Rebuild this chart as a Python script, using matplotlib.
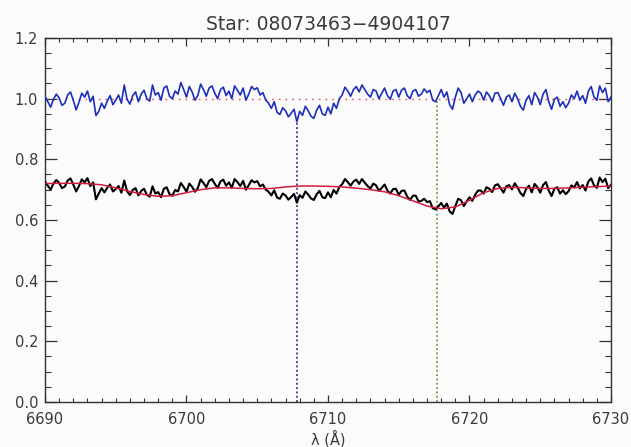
import numpy as np
import matplotlib
matplotlib.use("Agg")
import matplotlib.pyplot as plt

# Wavelength sampling of the spectrum (Angstrom)
wave_start = 6690.0
wave_step = 0.2

# Normalised spectrum (flux / continuum), one row per Angstrom
normalised = [
    1.008, 0.990, 0.972, 0.998, 1.015,
    1.002, 0.978, 0.985, 1.012, 1.022,
    0.995, 0.963, 0.988, 1.018, 1.005,
    1.025, 0.990, 1.008, 0.944, 0.958,
    0.985, 0.968, 0.992, 1.010, 0.980,
    0.995, 1.012, 0.985, 1.045, 0.998,
    0.982, 1.010, 1.022, 0.990, 1.015,
    1.028, 1.000, 0.992, 1.045, 1.012,
    1.020, 0.995, 1.035, 1.042, 1.008,
    1.000, 1.025, 1.015, 1.053, 1.030,
    1.005, 1.040, 1.022, 0.995, 1.010,
    1.048, 1.030, 1.008, 1.035, 1.042,
    1.018, 1.000, 1.030, 1.038, 1.010,
    1.025, 1.000, 1.042, 1.028, 1.012,
    1.035, 0.995, 1.015, 1.040, 1.030,
    1.036, 1.012, 1.020, 0.995, 0.985,
    0.968, 0.990, 0.955, 0.948, 0.970,
    0.960, 0.940, 0.952, 0.965, 0.924,
    0.958, 0.945, 0.975, 0.960, 0.942,
    0.935, 0.962, 0.978, 0.950, 0.945,
    0.972, 0.950, 0.985, 0.968, 1.000,
    1.012, 1.038, 1.025, 1.008, 1.030,
    1.040, 1.022, 1.045, 1.030, 1.015,
    1.005, 1.030, 1.025, 1.000, 1.018,
    1.035, 1.010, 0.998, 1.025, 1.030,
    1.005, 1.028, 1.035, 1.010, 1.000,
    1.025, 1.030, 1.008, 1.015, 1.032,
    1.020, 1.028, 0.995, 0.990, 1.010,
    1.030, 1.005, 1.022, 0.980, 0.965,
    1.005, 1.035, 1.020, 0.985, 1.000,
    1.015, 0.990, 1.012, 1.025, 1.018,
    0.995, 1.022, 1.010, 0.990, 1.018,
    1.020, 1.000, 0.978, 1.005, 1.012,
    0.990, 1.018, 1.000, 0.975, 0.962,
    0.995, 1.010, 0.980, 1.020, 1.005,
    0.980, 1.015, 1.030, 0.990, 0.965,
    0.998, 1.005, 0.975, 0.990, 0.970,
    0.985, 1.012, 1.000, 1.025, 0.995,
    1.010, 0.985, 1.025, 1.040, 1.005,
    0.995, 1.042, 1.020, 1.035, 0.990,
    1.005,
]

# Observed (scaled) flux on the same wavelength grid
flux = [
    0.726, 0.713, 0.700, 0.720, 0.732,
    0.722, 0.705, 0.710, 0.730, 0.737,
    0.717, 0.694, 0.712, 0.734, 0.724,
    0.738, 0.712, 0.724, 0.668, 0.687,
    0.705, 0.691, 0.706, 0.717, 0.694,
    0.702, 0.712, 0.690, 0.730, 0.695,
    0.682, 0.699, 0.705, 0.681, 0.696,
    0.703, 0.683, 0.677, 0.711, 0.687,
    0.692, 0.675, 0.703, 0.708, 0.685,
    0.680, 0.699, 0.694, 0.722, 0.709,
    0.693, 0.720, 0.709, 0.693, 0.705,
    0.734, 0.722, 0.708, 0.729, 0.735,
    0.719, 0.706, 0.727, 0.733, 0.713,
    0.724, 0.706, 0.735, 0.725, 0.712,
    0.729, 0.700, 0.715, 0.731, 0.724,
    0.728, 0.711, 0.717, 0.700, 0.693,
    0.681, 0.698, 0.674, 0.670, 0.687,
    0.681, 0.667, 0.676, 0.686, 0.657,
    0.682, 0.673, 0.694, 0.684, 0.671,
    0.666, 0.685, 0.696, 0.675, 0.672,
    0.691, 0.675, 0.699, 0.687, 0.709,
    0.718, 0.735, 0.725, 0.713, 0.727,
    0.733, 0.719, 0.735, 0.723, 0.712,
    0.704, 0.720, 0.714, 0.696, 0.706,
    0.717, 0.697, 0.687, 0.702, 0.703,
    0.683, 0.696, 0.697, 0.677, 0.666,
    0.680, 0.680, 0.661, 0.663, 0.670,
    0.659, 0.662, 0.639, 0.635, 0.645,
    0.656, 0.641, 0.654, 0.628, 0.620,
    0.646, 0.670, 0.665, 0.646, 0.661,
    0.675, 0.663, 0.683, 0.697, 0.697,
    0.687, 0.708, 0.703, 0.692, 0.714,
    0.718, 0.705, 0.690, 0.711, 0.715,
    0.701, 0.721, 0.707, 0.689, 0.679,
    0.702, 0.713, 0.691, 0.719, 0.708,
    0.690, 0.715, 0.725, 0.697, 0.679,
    0.703, 0.708, 0.687, 0.698, 0.685,
    0.695, 0.714, 0.707, 0.725, 0.704,
    0.715, 0.697, 0.727, 0.737, 0.714,
    0.706, 0.740, 0.725, 0.736, 0.705,
    0.716,
]

# Fitted continuum, sampled every 1 Angstrom
cont_wave = list(range(6690, 6731))
continuum = [
    0.720, 0.721, 0.721, 0.720, 0.716, 0.706, 0.694, 0.684, 0.678, 0.680,
    0.690, 0.700, 0.706, 0.706, 0.704, 0.703, 0.704, 0.709, 0.712, 0.712,
    0.711, 0.709, 0.705, 0.700, 0.693, 0.680, 0.663, 0.646, 0.637, 0.643,
    0.665, 0.690, 0.704, 0.708, 0.706, 0.704, 0.704, 0.706, 0.708, 0.710,
    0.712,
]

# Line markers: Li I 6707.8 and Ca I 6717.7
li_line = 6707.8
li_top = 0.93
ca_line = 6717.7
ca_top = 1.0

title = "Star: 08073463\u22124904107"
x_ticks = [6690, 6700, 6710, 6720, 6730]
y_ticks = [0.0, 0.2, 0.4, 0.6, 0.8, 1.0, 1.2]

wave = wave_start + wave_step * np.arange(len(flux))

plt.rcParams['font.family'] = ['DejaVu Sans']
text_color = '#3a3a3a'
bg = '#fbfbfb'

fig = plt.figure(figsize=(6.31, 4.47), dpi=100, facecolor=bg)
ax = fig.add_axes([0.0713, 0.1007, 0.8970, 0.8143], facecolor=bg)

ax.plot([6690, 6730], [1.0, 1.0], color='#e0505a', lw=1.0,
        linestyle=(0, (1.2, 3.6)), zorder=1)
ax.plot([li_line, li_line], [0.0, li_top], color='#4a2a8a', lw=1.3,
        linestyle=(0, (1, 1.4)), zorder=1)
ax.plot([ca_line, ca_line], [0.0, ca_top], color='#6aa040', lw=1.3,
        linestyle=(0, (1, 1.4)), zorder=1)

ax.plot(wave, normalised, color='#1e2fb8', lw=1.2, zorder=3)
ax.plot(wave, flux, color='black', lw=1.5, zorder=3)
ax.plot(cont_wave, continuum, color='#d01e3c', lw=1.1, zorder=4)

ax.set_xlim(6690, 6730)
ax.set_ylim(0.0, 1.2)
ax.set_xticks(x_ticks)
ax.set_xticks(np.arange(6690, 6731, 1), minor=True)
ax.set_yticks(y_ticks)
ax.set_yticks(np.arange(0.0, 1.201, 0.05), minor=True)
ax.set_xticklabels([str(t) for t in x_ticks])
ax.set_yticklabels([f"{t:.1f}" for t in y_ticks])

for s in ax.spines.values():
    s.set_color('#333333')
    s.set_linewidth(1.0)

ax.tick_params(axis='x', which='major', direction='in', length=5.4, width=0.9,
               top=True, bottom=True, colors='#333333', labelcolor=text_color,
               labelsize=10.5, pad=7)
ax.tick_params(axis='x', which='minor', direction='in', length=2.7, width=0.8,
               top=True, bottom=True, colors='#333333')
ax.tick_params(axis='y', which='major', direction='in', length=8.3, width=0.9,
               left=True, right=True, colors='#333333', labelcolor=text_color,
               labelsize=10.5, pad=5)
ax.tick_params(axis='y', which='minor', direction='in', length=4.1, width=0.8,
               left=True, right=True, colors='#333333')

ax.set_title(title, fontsize=13.5, color=text_color, pad=6)
ax.set_xlabel("\u03bb (\u00c5)", fontsize=10.5, color=text_color, labelpad=2)

fig.savefig("out.png", dpi=100, facecolor=bg)
